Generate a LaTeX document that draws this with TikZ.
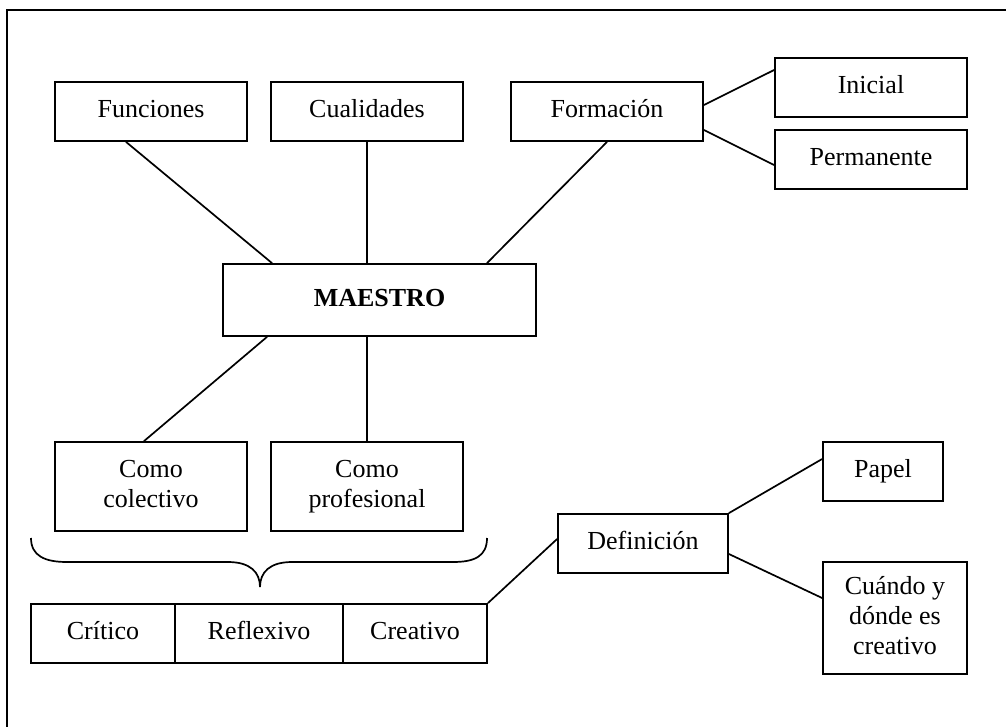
\documentclass[tikz,border=0pt]{standalone}
\usepackage{fontspec}
\setmainfont{Liberation Serif}
\begin{document}
\begin{tikzpicture}[x=1pt, y=-1pt, line width=1.8pt,
  box/.style={draw, inner sep=0pt, align=center,
    font=\fontsize{26}{30}\selectfont},
  wide/.style={box, minimum width=192pt, minimum height=59pt},
  link/.style={draw, line width=1.7pt}]
\useasboundingbox (0,0) rectangle (1006,726);
% frame
\draw (1012,10) -- (7,10) -- (7,732);

% top row
\node[wide] (fun) at (151,111.5) {\strut Funciones};
\node[wide] (cua) at (367,111.5) {\strut Cualidades};
\node[wide] (for) at (607,111.5) {\strut Formación};
\node[wide] (ini) at (871,87.5) {\strut Inicial};
\node[wide] (per) at (871,159.5) {\strut Permanente};

% centre
\node[box, minimum width=313pt, minimum height=72pt] (mae) at (379.5,300) {\strut\textbf{MAESTRO}};

% lower boxes
\node[box, minimum width=192pt, minimum height=89pt] (col) at (151,486.5) {\strut Como\\colectivo\strut};
\node[box, minimum width=192pt, minimum height=89pt] (pro) at (367,486.5) {\strut Como\\profesional\strut};

% qualities row
\node[box, minimum width=144pt, minimum height=59pt] (cri) at (103,633.5) {\strut Crítico};
\node[box, minimum width=168pt, minimum height=59pt] (ref) at (259,633.5) {\strut Reflexivo};
\node[box, minimum width=144pt, minimum height=59pt] (cre) at (415,633.5) {\strut Creativo};

% definition branch
\node[box, minimum width=170pt, minimum height=59pt] (def) at (643,543.5) {\strut Definición};
\node[box, minimum width=120pt, minimum height=59pt] (pap) at (883,471.5) {\strut Papel};
\node[box, minimum width=144pt, minimum height=112pt] (cyd) at (895,618) {\strut Cuándo y\\dónde es\\creativo\strut};

% connectors
\path[link] ([xshift=-25pt]fun.south) -- ([xshift=-107.5pt]mae.north);
\path[link] (cua.south) -- ([xshift=-12.5pt]mae.north);
\path[link] (for.south) -- ([xshift=107.5pt]mae.north);
\path[link] ([yshift=6.5pt]for.east) -- ([yshift=17.5pt]ini.west);
\path[link] ([yshift=-18.5pt]for.east) -- ([yshift=-5.5pt]per.west);
\path[link] ([xshift=-112.5pt]mae.south) -- ([xshift=-7pt]col.north);
\path[link] ([xshift=-12.5pt]mae.south) -- (pro.north);
\path[link] (cre.north east) -- ([yshift=4.5pt]def.west);
\path[link] (def.north east) -- ([yshift=12.5pt]pap.west);
\path[link] ([yshift=-10.5pt]def.east) -- ([yshift=20pt]cyd.west);

% brace over the qualities
\draw[line width=1.7pt] (31,538) .. controls (31,556) and (45,562) .. (67,562)
  -- (228,562) .. controls (250,562) and (260,572) .. (260,587)
  .. controls (260,572) and (270,562) .. (292,562)
  -- (453,562) .. controls (475,562) and (487,556) .. (487,538);
\end{tikzpicture}
\end{document}
